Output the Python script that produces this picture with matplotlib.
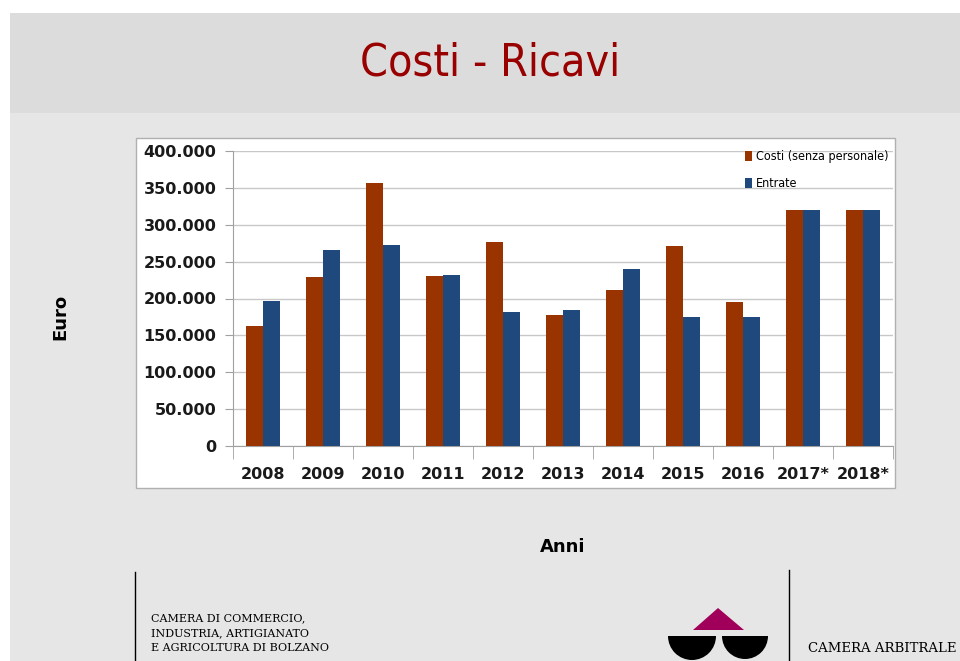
import matplotlib
matplotlib.use("Agg")
import matplotlib.pyplot as plt
import numpy as np
from matplotlib.patches import Rectangle, Polygon, Wedge
from matplotlib.ticker import FuncFormatter, FixedLocator

anni = ['2008', '2009', '2010', '2011', '2012', '2013', '2014', '2015', '2016', '2017*', '2018*']
costi = [163000, 229000, 357000, 231000, 277000, 177000, 212000, 271000, 195000, 320000, 320000]
entrate = [197000, 266000, 272000, 232000, 182000, 184000, 240000, 175000, 175000, 320000, 320000]

c_costi = '#993300'
c_entrate = '#1f497d'

fig = plt.figure(figsize=(9.6, 6.61), dpi=100)
fig.patch.set_facecolor('white')

# background slide drawn in pixel coordinates
bg = fig.add_axes([0, 0, 1, 1], zorder=-1)
bg.set_xlim(0, 960)
bg.set_ylim(661, 0)
bg.axis('off')
bg.add_patch(Rectangle((10, 13), 950, 100, color='#dcdcdc', lw=0))
bg.add_patch(Rectangle((10, 113), 950, 548, color='#e6e6e6', lw=0))
bg.add_patch(Rectangle((136, 138), 759, 350, facecolor='white', edgecolor='#b0b0b0', lw=1))
bg.text(490, 63, 'Costi - Ricavi', color='#990000', fontsize=32,
        fontstretch='condensed', ha='center', va='center')
bg.text(60, 317, 'Euro', rotation=90, fontsize=13, fontweight='bold',
        ha='center', va='center')
bg.text(563, 547, 'Anni', fontsize=13, fontweight='bold', ha='center', va='center')

# footer
bg.plot([135, 135], [572, 661], color='black', lw=1)
bg.plot([789, 789], [570, 661], color='black', lw=1)
for i, line in enumerate(['CAMERA DI COMMERCIO,', 'INDUSTRIA, ARTIGIANATO',
                          'E AGRICOLTURA DI BOLZANO']):
    bg.text(151, 618 + i * 15, line, fontsize=8, family='DejaVu Serif',
            va='center', ha='left')
bg.text(808, 648, 'CAMERA ARBITRALE', fontsize=9.5, family='DejaVu Serif',
        va='center', ha='left')
bg.add_patch(Polygon([[718, 608], [693, 630], [744, 630]], color='#a0005a', lw=0))
bg.add_patch(Wedge((692, 636), 24, 0, 180, color='black', lw=0))
bg.add_patch(Wedge((745, 636), 23, 0, 180, color='black', lw=0))

# chart
ax = fig.add_axes([233 / 960, 1 - 446 / 661, 660 / 960, 295 / 661])
ax.set_facecolor('white')
x = np.arange(len(anni))
w = 0.29
ax.bar(x - w / 2, costi, w, color=c_costi, label='Costi (senza personale)', zorder=3)
ax.bar(x + w / 2, entrate, w, color=c_entrate, label='Entrate', zorder=3)

ax.set_xlim(-0.5, len(anni) - 0.5)
ax.set_ylim(0, 400000)
ax.set_yticks(np.arange(0, 400001, 50000))
ax.yaxis.set_major_formatter(FuncFormatter(lambda v, p: f'{int(v):,}'.replace(',', '.')))
ax.grid(axis='y', color='#c8c8c8', lw=1, zorder=0)

ax.set_xticks(x)
ax.set_xticklabels(anni)
ax.xaxis.set_minor_locator(FixedLocator(np.arange(-0.5, len(anni), 1)))
ax.tick_params(axis='x', which='major', length=0, pad=15)
ax.tick_params(axis='x', which='minor', length=9, color='#a0a0a0', direction='out')
ax.tick_params(axis='y', length=6, color='#a0a0a0', pad=6)
for lab in ax.get_xticklabels() + ax.get_yticklabels():
    lab.set_fontsize(11.5)
    lab.set_fontweight('bold')
    lab.set_color('#1a1a1a')

for s in ['top', 'right']:
    ax.spines[s].set_visible(False)
ax.spines['left'].set_color('#a0a0a0')
ax.spines['bottom'].set_color('#a0a0a0')

leg = ax.legend(loc='upper right', bbox_to_anchor=(1.01, 1.04), frameon=False,
                handlelength=0.6, handleheight=0.9, handletextpad=0.3,
                labelspacing=1.1, prop={'size': 9, 'stretch': 'condensed'})

fig.savefig('out.png', dpi=100, facecolor=fig.get_facecolor())
